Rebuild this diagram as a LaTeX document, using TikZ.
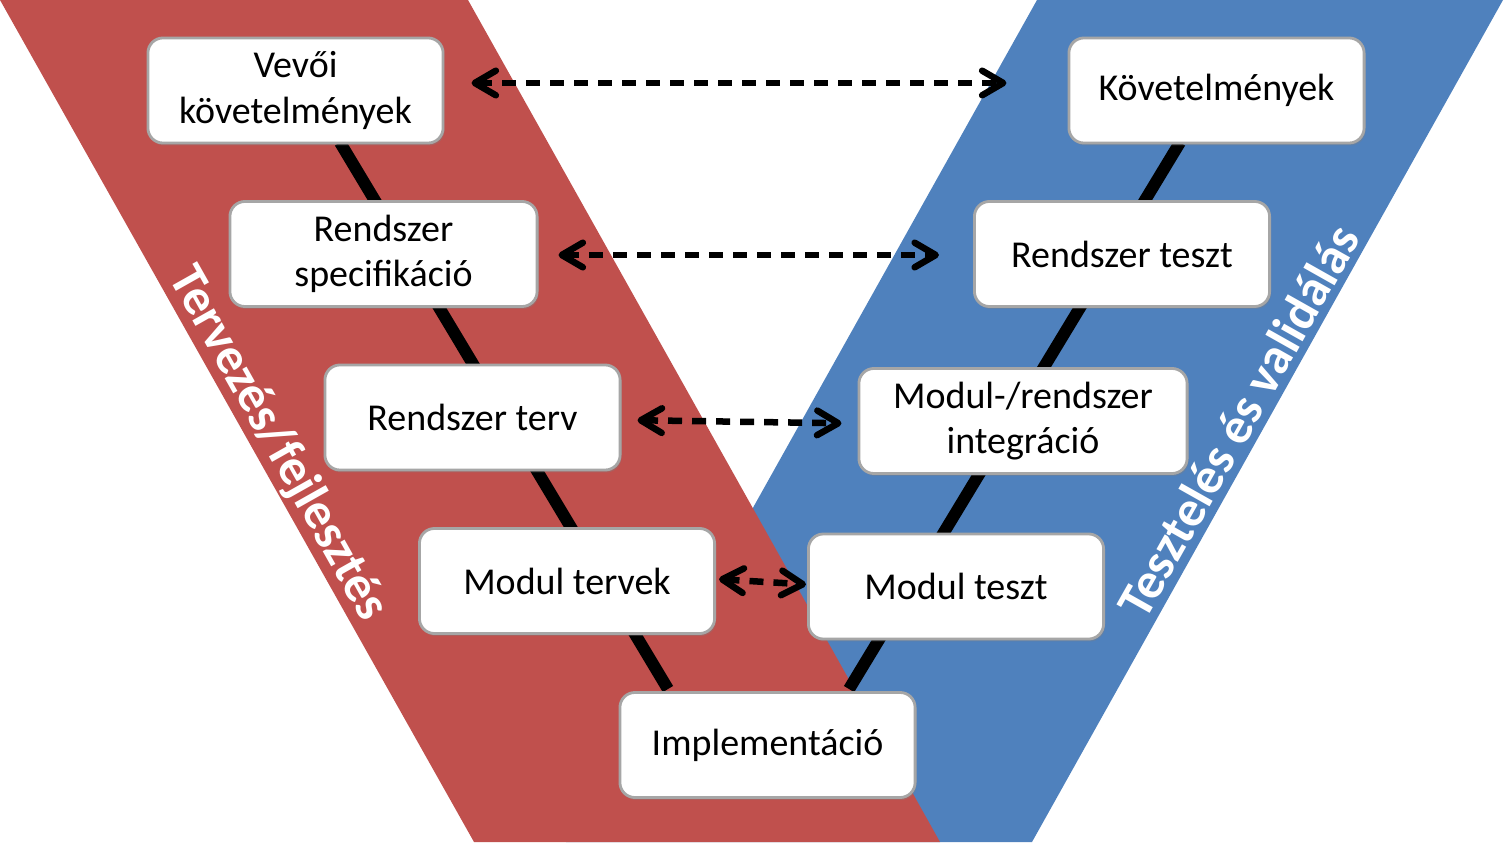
\documentclass[tikz,border=0pt]{standalone}
\usepackage{fontspec}
\setmainfont{Carlito}
\usepackage{tikz}
\usetikzlibrary{arrows.meta,shadows}
\definecolor{vred}{HTML}{C0504D}
\definecolor{vblue}{HTML}{4F81BD}
\definecolor{rim}{HTML}{A6A6A6}
\pgfdeclarelayer{back}
\pgfsetlayers{back,main}

\begin{document}
\begin{tikzpicture}[x=0.01cm,y=0.01cm,
  >={Straight Barb[length=6pt,width=7pt,line cap=round,line join=round]},
  stage/.style={draw=rim,line width=0.8pt,fill=white,rounded corners=0.15cm,align=center,
    minimum width=2.95cm,minimum height=1.05cm,inner sep=0pt,font=\fontsize{10.8}{12.8}\selectfont,
    drop shadow={shadow xshift=0.4pt,shadow yshift=-0.7pt,opacity=0.35}},
  spine/.style={line width=0.12cm},
  link/.style={<->,line width=0.065cm,dash pattern=on 0.14cm off 0.1cm},
  side/.style={text=white,font=\fontsize{14.5}{17}\selectfont\bfseries}]
  \useasboundingbox (0,0) rectangle (1506,842);
  \node[stage] (vevo) at (295.5,751.5) {Vevői\\követelmények};
  \node[stage,minimum width=3.07cm] (spec) at (383.5,588) {Rendszer\\specifikáció};
  \node[stage] (terv) at (472.5,424.5) {Rendszer terv};
  \node[stage] (mterv) at (567,261) {Modul tervek};
  \node[stage] (impl) at (767.5,97) {Implementáció};
  \node[stage] (mteszt) at (956,255.5) {Modul teszt};
  \node[stage,minimum width=3.28cm] (integr) at (1023,421) {Modul-/rendszer\\integráció};
  \node[stage] (rteszt) at (1122,588) {Rendszer teszt};
  \node[stage] (kov) at (1216.5,751.5) {Követelmények};
  \begin{pgfonlayer}{back}
    \fill[vblue] (1037,842) -- (1503,842) -- (1032,0) -- (566,0) -- cycle;
    \fill[vred] (0,842) -- (468,842) -- (940,0) -- (474,0) -- cycle;
    \draw[spine] ([xshift=0.445cm,yshift=0.02cm]vevo.south) -- ([xshift=-0.995cm,yshift=0.02cm]impl.north);
    \draw[spine] ([xshift=-0.365cm,yshift=0.02cm]kov.south) -- ([xshift=0.815cm,yshift=0.02cm]impl.north);
  \end{pgfonlayer}
  \draw[link,shorten <=0.27cm,shorten >=0.61cm] ([yshift=0.075cm]vevo.east) -- ([yshift=0.075cm]kov.west);
  \draw[link,shorten <=0.2cm,shorten >=0.34cm] ([yshift=-0.01cm]spec.east) -- ([yshift=-0.01cm]rteszt.west);
  \draw[link,shorten <=0.16cm,shorten >=0.16cm] ([yshift=-0.025cm]terv.east) -- ([yshift=-0.025cm]integr.west);
  \draw[link,shorten <=0.03cm,shorten >=0.01cm] ([yshift=0.02cm]mterv.east) -- ([yshift=0.02cm]mteszt.west);
  \node[side,rotate=-60.6] (plan) at (278,398) {Tervezés/fejlesztés};
  \node[side,rotate=60.6] (test) at (1238,421) {Tesztelés és validálás};
\end{tikzpicture}
\end{document}
